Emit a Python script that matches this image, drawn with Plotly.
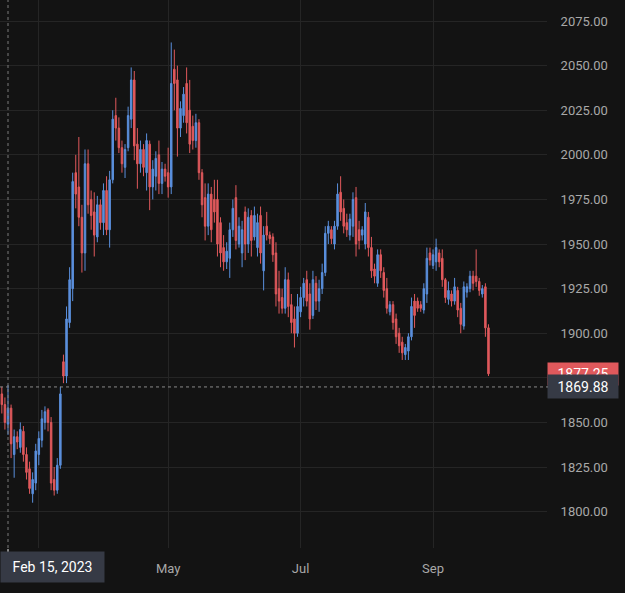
import pandas as pd
import plotly.graph_objects as go

# ---- data ----
holidays = ["2023-04-07", "2023-05-29", "2023-06-19", "2023-07-04", "2023-09-04"]
dates = [d.strftime("%Y-%m-%d") for d in pd.bdate_range("2023-02-10", "2023-09-28")
         if d.strftime("%Y-%m-%d") not in holidays]

opens = [1872, 1866, 1860, 1849, 1858, 1832, 1842, 1836, 1845, 1832, 1824, 1810, 1816,
         1832, 1840, 1850, 1857, 1850, 1818, 1812, 1826, 1884, 1876, 1906, 1925, 1990, 1982, 1965,
         1945, 1995, 1975, 1968, 1954, 1972, 1962, 1980,
         1958, 1986, 2022, 2015, 2004, 1993, 2004, 2020, 2042, 2006, 1995, 2003, 1990, 2006,
         1982, 1988, 2000, 1984, 1992,
         1990, 1982, 2048, 2042, 2015, 2022, 2040, 2025, 2016, 2008, 2018, 1990, 1976, 1960,
         1978, 1975, 1975, 1962, 1948, 1940, 1942, 1958,
         1976, 1950, 1945, 1968, 1950, 1966, 1954, 1948, 1966, 1935, 1960, 1955, 1954, 1945,
         1925, 1920, 1914, 1930, 1916, 1908, 1900,
         1912, 1920, 1930, 1922, 1910, 1928, 1918, 1925, 1934, 1956, 1958, 1950, 1960, 1979,
         1970, 1962, 1955, 1960, 1976, 1958,
         1955, 1950, 1965, 1948, 1936, 1928, 1944, 1934, 1925, 1912, 1916, 1908, 1900, 1895,
         1888, 1890, 1898, 1918, 1918, 1916, 1913, 1922, 1945,
         1938, 1940, 1945, 1942, 1930, 1919, 1922, 1918, 1924, 1914, 1904, 1923, 1925, 1932,
         1932, 1929, 1922, 1926, 1903]
highs = [1876, 1870, 1864, 1871, 1860, 1846, 1845, 1850, 1848, 1836, 1828, 1822, 1838,
         1845, 1857, 1859, 1858, 1853, 1825, 1830, 1870, 1888, 1915, 1937, 1990, 2000, 2010, 1972,
         2003, 2003, 1980, 1979, 1977, 1975, 1984, 1988,
         1991, 2025, 2032, 2021, 2008, 2006, 2027, 2049, 2047, 2015, 2008, 2006, 2012, 2008,
         1997, 2002, 2008, 1996, 1995,
         2004, 2063, 2059, 2050, 2030, 2038, 2049, 2042, 2022, 2023, 2020, 1992, 1984, 1984,
         1982, 1986, 1986, 1965, 1955, 1951, 1962, 1975,
         1983, 1965, 1963, 1971, 1970, 1969, 1971, 1967, 1971, 1960, 1968, 1957, 1956, 1951,
         1935, 1925, 1937, 1934, 1922, 1915, 1922,
         1926, 1931, 1935, 1928, 1935, 1932, 1930, 1939, 1960, 1963, 1960, 1963, 1984, 1988,
         1975, 1967, 1967, 1979, 1982, 1963,
         1960, 1973, 1968, 1954, 1939, 1947, 1947, 1937, 1931, 1918, 1918, 1911, 1903, 1898,
         1894, 1900, 1920, 1922, 1920, 1918, 1928, 1948, 1948,
         1947, 1953, 1947, 1947, 1931, 1929, 1924, 1931, 1926, 1917, 1929, 1928, 1935, 1935,
         1947, 1931, 1927, 1928, 1905]
lows = [1860, 1855, 1846, 1843, 1830, 1819, 1835, 1833, 1828, 1818, 1810, 1805, 1812,
        1826, 1836, 1846, 1845, 1812, 1809, 1810, 1824, 1872, 1872, 1903, 1918, 1970, 1960, 1934,
        1935, 1967, 1958, 1943, 1951, 1958, 1955, 1955,
        1948, 1984, 2008, 2001, 1990, 1987, 2002, 2015, 1997, 1981, 1990, 1988, 1980, 1969,
        1975, 1980, 1978, 1978, 1985,
        1976, 1978, 2025, 1999, 2010, 2018, 2012, 2001, 2003, 2004, 1986, 1965, 1952, 1955,
        1951, 1962, 1943, 1937, 1935, 1936, 1931, 1954,
        1947, 1948, 1937, 1941, 1945, 1943, 1952, 1943, 1939, 1924, 1952, 1950, 1940, 1915,
        1911, 1911, 1911, 1909, 1900, 1892, 1898,
        1909, 1915, 1915, 1902, 1908, 1913, 1912, 1922, 1932, 1950, 1950, 1947, 1958, 1963,
        1956, 1954, 1952, 1954, 1943, 1947,
        1952, 1947, 1943, 1931, 1928, 1926, 1931, 1920, 1911, 1910, 1902, 1894, 1889, 1885,
        1885, 1885, 1896, 1903, 1912, 1912, 1911, 1917, 1938,
        1936, 1935, 1937, 1926, 1917, 1916, 1915, 1916, 1909, 1900, 1902, 1920, 1923, 1924,
        1926, 1921, 1920, 1898, 1876]
closes = [1864, 1860, 1850, 1858, 1838, 1842, 1839, 1846, 1832, 1822, 1813, 1818, 1834,
          1841, 1852, 1856, 1850, 1816, 1812, 1826, 1866, 1876, 1908, 1930, 1985, 1978, 1965, 1945,
          1995, 1972, 1966, 1955, 1972, 1962, 1980, 1958,
          1986, 2020, 2015, 2004, 1995, 2003, 2022, 2042, 2005, 1995, 2003, 1993, 2008, 1982,
          1992, 1998, 1984, 1992, 1988,
          1982, 2040, 2040, 2015, 2026, 2034, 2018, 2006, 2008, 2018, 1990, 1972, 1960, 1978,
          1958, 1968, 1950, 1945, 1940, 1946, 1958, 1970,
          1952, 1960, 1958, 1950, 1965, 1952, 1966, 1962, 1945, 1955, 1955, 1953, 1944, 1922,
          1918, 1914, 1930, 1915, 1906, 1900, 1915,
          1920, 1928, 1918, 1908, 1930, 1918, 1925, 1934, 1956, 1960, 1953, 1960, 1978, 1968,
          1960, 1958, 1964, 1975, 1950, 1952,
          1958, 1968, 1948, 1935, 1932, 1944, 1935, 1924, 1914, 1916, 1906, 1898, 1893, 1889,
          1892, 1898, 1915, 1910, 1914, 1914, 1925, 1942, 1941,
          1944, 1948, 1940, 1930, 1920, 1924, 1918, 1926, 1913, 1905, 1926, 1926, 1932, 1928,
          1929, 1924, 1925, 1903, 1877.25]

# March grid line exists but its label is hidden behind the crosshair date box
month_ticks = ["2023-03-01", "2023-05-01", "2023-07-03", "2023-09-01"]
month_labels = ["", "May", "Jul", "Sep"]
price_ticks = [1800, 1825, 1850, 1875, 1900, 1925, 1950, 1975, 2000, 2025, 2050, 2075]

cross_date = "2023-02-15"
cross_label = "Feb 15, 2023"
cross_price = 1869.88
last_price = closes[-1]

assert len(dates) == len(opens) == len(highs) == len(lows) == len(closes)

# ---- style ----
BG = "#131313"
GRID = "#252525"
TXT = "#a8a8a8"
UP = "#5a8fdc"
DOWN = "#e0595c"
LABEL_BG = "#363a45"

fig = go.Figure(go.Candlestick(
    x=dates, open=opens, high=highs, low=lows, close=closes,
    increasing=dict(line=dict(color=UP, width=1), fillcolor=UP),
    decreasing=dict(line=dict(color=DOWN, width=1), fillcolor=DOWN),
    whiskerwidth=0, hoverinfo="skip", showlegend=False,
))

ci = dates.index(cross_date)
px_per_bar = 3.08
left_idx = ci - 8 / px_per_bar
right_idx = ci + 539 / px_per_bar

fig.update_layout(
    width=625, height=593,
    margin=dict(l=0, r=78, t=0, b=45),
    paper_bgcolor=BG, plot_bgcolor=BG,
    font=dict(family="Roboto, Liberation Sans, sans-serif", size=13, color=TXT),
    xaxis=dict(
        type="category", range=[left_idx, right_idx],
        rangeslider=dict(visible=False),
        tickvals=month_ticks, ticktext=month_labels,
        showgrid=True, gridcolor=GRID, gridwidth=1,
        ticks="outside", ticklen=8, tickcolor=BG,
        showline=False, zeroline=False,
        tickfont=dict(size=13, color=TXT),
    ),
    yaxis=dict(
        side="right", range=[1779.6, 2086.8],
        tickvals=price_ticks, tickformat=".2f",
        showgrid=True, gridcolor=GRID, gridwidth=1,
        ticks="outside", ticklen=10, tickcolor=BG,
        showline=False, zeroline=False,
        tickfont=dict(size=13, color=TXT),
    ),
    hovermode=False,
)

# crosshair
fig.add_shape(type="line", xref="x", yref="paper", x0=ci, x1=ci, y0=0, y1=1,
              line=dict(color="#7a7a7a", width=1, dash="dot"))
fig.add_shape(type="line", xref="paper", yref="y", x0=0, x1=1, y0=cross_price, y1=cross_price,
              line=dict(color="#8a8a8a", width=1, dash="dot"))

# last price label (red) then crosshair price label (gray) on top
fig.add_annotation(xref="paper", yref="y", x=1.0, y=last_price, xanchor="left", yanchor="middle",
                   text=f"{last_price:.2f}", showarrow=False, bgcolor=DOWN,
                   font=dict(color="#ffffff", size=14), width=64, height=16, borderpad=3)
fig.add_annotation(xref="paper", yref="y", x=1.0, y=cross_price, xanchor="left", yanchor="middle",
                   text=f"{cross_price:.2f}", showarrow=False, bgcolor=LABEL_BG,
                   font=dict(color="#ffffff", size=14), width=64, height=17, borderpad=3)
fig.add_shape(type="line", xref="paper", yref="y", x0=1.0, x1=1.012, y0=cross_price, y1=cross_price,
              line=dict(color="#d0d0d0", width=1))

# crosshair date label
fig.add_annotation(xref="paper", yref="paper", x=0, y=-19 / 548, xanchor="left", yanchor="middle",
                   text=cross_label, showarrow=False, bgcolor=LABEL_BG,
                   font=dict(color="#ffffff", size=14), width=95, height=22, borderpad=4)
fig.add_shape(type="line", xref="x", yref="paper", x0=ci, x1=ci, y0=-0.002, y1=-0.014,
              line=dict(color="#ffffff", width=1))

fig.write_html("out.html")
